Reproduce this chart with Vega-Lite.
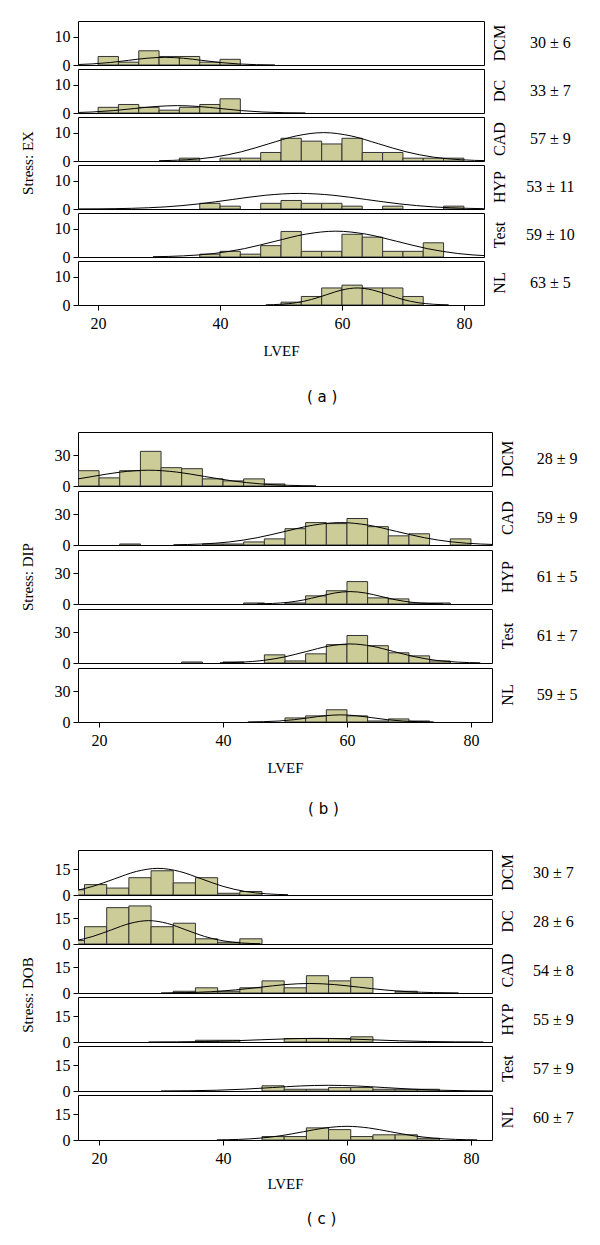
{
"$schema": "https://vega.github.io/schema/vega-lite/v6.json",
"padding": {"left": 20, "top": 20, "right": 5, "bottom": 5},
"background": "white",
"spacing": 32,
"data": {"values": [
{"s":"a","p":"DCM","x":20,"x2":23.33,"y":3},{"s":"a","p":"DCM","x":23.33,"x2":26.67,"y":1},{"s":"a","p":"DCM","x":26.67,"x2":30,"y":5},{"s":"a","p":"DCM","x":30,"x2":33.33,"y":3},{"s":"a","p":"DCM","x":33.33,"x2":36.67,"y":3},{"s":"a","p":"DCM","x":36.67,"x2":40,"y":1},{"s":"a","p":"DCM","x":40,"x2":43.33,"y":2},
{"s":"a","p":"DC","x":20,"x2":23.33,"y":2},{"s":"a","p":"DC","x":23.33,"x2":26.67,"y":3},{"s":"a","p":"DC","x":26.67,"x2":30,"y":2},{"s":"a","p":"DC","x":30,"x2":33.33,"y":1},{"s":"a","p":"DC","x":33.33,"x2":36.67,"y":2},{"s":"a","p":"DC","x":36.67,"x2":40,"y":3},{"s":"a","p":"DC","x":40,"x2":43.33,"y":5},
{"s":"a","p":"CAD","x":33.33,"x2":36.67,"y":1},{"s":"a","p":"CAD","x":40,"x2":43.33,"y":1},{"s":"a","p":"CAD","x":43.33,"x2":46.67,"y":1},{"s":"a","p":"CAD","x":46.67,"x2":50,"y":3},{"s":"a","p":"CAD","x":50,"x2":53.33,"y":8},{"s":"a","p":"CAD","x":53.33,"x2":56.67,"y":7},{"s":"a","p":"CAD","x":56.67,"x2":60,"y":6},{"s":"a","p":"CAD","x":60,"x2":63.33,"y":8},{"s":"a","p":"CAD","x":63.33,"x2":66.67,"y":3},{"s":"a","p":"CAD","x":66.67,"x2":70,"y":3},{"s":"a","p":"CAD","x":70,"x2":73.33,"y":1},{"s":"a","p":"CAD","x":73.33,"x2":76.67,"y":1},{"s":"a","p":"CAD","x":76.67,"x2":80,"y":1},
{"s":"a","p":"HYP","x":36.67,"x2":40,"y":2},{"s":"a","p":"HYP","x":40,"x2":43.33,"y":1},{"s":"a","p":"HYP","x":46.67,"x2":50,"y":2},{"s":"a","p":"HYP","x":50,"x2":53.33,"y":3},{"s":"a","p":"HYP","x":53.33,"x2":56.67,"y":2},{"s":"a","p":"HYP","x":56.67,"x2":60,"y":2},{"s":"a","p":"HYP","x":60,"x2":63.33,"y":1},{"s":"a","p":"HYP","x":66.67,"x2":70,"y":1},{"s":"a","p":"HYP","x":76.67,"x2":80,"y":1},
{"s":"a","p":"Test","x":36.67,"x2":40,"y":1},{"s":"a","p":"Test","x":40,"x2":43.33,"y":2},{"s":"a","p":"Test","x":43.33,"x2":46.67,"y":1},{"s":"a","p":"Test","x":46.67,"x2":50,"y":4},{"s":"a","p":"Test","x":50,"x2":53.33,"y":9},{"s":"a","p":"Test","x":53.33,"x2":56.67,"y":2},{"s":"a","p":"Test","x":56.67,"x2":60,"y":2},{"s":"a","p":"Test","x":60,"x2":63.33,"y":8},{"s":"a","p":"Test","x":63.33,"x2":66.67,"y":7},{"s":"a","p":"Test","x":66.67,"x2":70,"y":2},{"s":"a","p":"Test","x":70,"x2":73.33,"y":2},{"s":"a","p":"Test","x":73.33,"x2":76.67,"y":5},
{"s":"a","p":"NL","x":50,"x2":53.33,"y":1},{"s":"a","p":"NL","x":53.33,"x2":56.67,"y":3},{"s":"a","p":"NL","x":56.67,"x2":60,"y":6},{"s":"a","p":"NL","x":60,"x2":63.33,"y":7},{"s":"a","p":"NL","x":63.33,"x2":66.67,"y":6},{"s":"a","p":"NL","x":66.67,"x2":70,"y":6},{"s":"a","p":"NL","x":70,"x2":73.33,"y":3},
{"s":"b","p":"DCM","x":16.67,"x2":20,"y":15},{"s":"b","p":"DCM","x":20,"x2":23.33,"y":8},{"s":"b","p":"DCM","x":23.33,"x2":26.67,"y":15},{"s":"b","p":"DCM","x":26.67,"x2":30,"y":34},{"s":"b","p":"DCM","x":30,"x2":33.33,"y":18},{"s":"b","p":"DCM","x":33.33,"x2":36.67,"y":17},{"s":"b","p":"DCM","x":36.67,"x2":40,"y":7},{"s":"b","p":"DCM","x":40,"x2":43.33,"y":5},{"s":"b","p":"DCM","x":43.33,"x2":46.67,"y":7},{"s":"b","p":"DCM","x":46.67,"x2":50,"y":2},
{"s":"b","p":"CAD","x":23.33,"x2":26.67,"y":1},{"s":"b","p":"CAD","x":36.67,"x2":40,"y":1},{"s":"b","p":"CAD","x":40,"x2":43.33,"y":1},{"s":"b","p":"CAD","x":43.33,"x2":46.67,"y":3},{"s":"b","p":"CAD","x":46.67,"x2":50,"y":6},{"s":"b","p":"CAD","x":50,"x2":53.33,"y":16},{"s":"b","p":"CAD","x":53.33,"x2":56.67,"y":22},{"s":"b","p":"CAD","x":56.67,"x2":60,"y":21},{"s":"b","p":"CAD","x":60,"x2":63.33,"y":26},{"s":"b","p":"CAD","x":63.33,"x2":66.67,"y":18},{"s":"b","p":"CAD","x":66.67,"x2":70,"y":9},{"s":"b","p":"CAD","x":70,"x2":73.33,"y":11},{"s":"b","p":"CAD","x":76.67,"x2":80,"y":6},
{"s":"b","p":"HYP","x":43.33,"x2":46.67,"y":1},{"s":"b","p":"HYP","x":50,"x2":53.33,"y":1},{"s":"b","p":"HYP","x":53.33,"x2":56.67,"y":8},{"s":"b","p":"HYP","x":56.67,"x2":60,"y":13},{"s":"b","p":"HYP","x":60,"x2":63.33,"y":22},{"s":"b","p":"HYP","x":63.33,"x2":66.67,"y":6},{"s":"b","p":"HYP","x":66.67,"x2":70,"y":5},{"s":"b","p":"HYP","x":70,"x2":73.33,"y":1},{"s":"b","p":"HYP","x":73.33,"x2":76.67,"y":1},
{"s":"b","p":"Test","x":33.33,"x2":36.67,"y":1},{"s":"b","p":"Test","x":40,"x2":43.33,"y":1},{"s":"b","p":"Test","x":46.67,"x2":50,"y":8},{"s":"b","p":"Test","x":50,"x2":53.33,"y":2},{"s":"b","p":"Test","x":53.33,"x2":56.67,"y":9},{"s":"b","p":"Test","x":56.67,"x2":60,"y":18},{"s":"b","p":"Test","x":60,"x2":63.33,"y":27},{"s":"b","p":"Test","x":63.33,"x2":66.67,"y":17},{"s":"b","p":"Test","x":66.67,"x2":70,"y":10},{"s":"b","p":"Test","x":70,"x2":73.33,"y":7},{"s":"b","p":"Test","x":73.33,"x2":76.67,"y":2},
{"s":"b","p":"NL","x":50,"x2":53.33,"y":4},{"s":"b","p":"NL","x":53.33,"x2":56.67,"y":6},{"s":"b","p":"NL","x":56.67,"x2":60,"y":12},{"s":"b","p":"NL","x":60,"x2":63.33,"y":6},{"s":"b","p":"NL","x":63.33,"x2":66.67,"y":1},{"s":"b","p":"NL","x":66.67,"x2":70,"y":3},{"s":"b","p":"NL","x":70,"x2":73.33,"y":1},
{"s":"c","p":"DCM","x":14.07,"x2":17.65,"y":3},{"s":"c","p":"DCM","x":17.65,"x2":21.23,"y":6},{"s":"c","p":"DCM","x":21.23,"x2":24.81,"y":4},{"s":"c","p":"DCM","x":24.81,"x2":28.39,"y":10},{"s":"c","p":"DCM","x":28.39,"x2":31.97,"y":14},{"s":"c","p":"DCM","x":31.97,"x2":35.55,"y":7},{"s":"c","p":"DCM","x":35.55,"x2":39.13,"y":10},{"s":"c","p":"DCM","x":39.13,"x2":42.71,"y":1},{"s":"c","p":"DCM","x":42.71,"x2":46.29,"y":2},
{"s":"c","p":"DC","x":14.07,"x2":17.65,"y":2},{"s":"c","p":"DC","x":17.65,"x2":21.23,"y":10},{"s":"c","p":"DC","x":21.23,"x2":24.81,"y":21},{"s":"c","p":"DC","x":24.81,"x2":28.39,"y":22},{"s":"c","p":"DC","x":28.39,"x2":31.97,"y":10},{"s":"c","p":"DC","x":31.97,"x2":35.55,"y":12},{"s":"c","p":"DC","x":35.55,"x2":39.13,"y":3},{"s":"c","p":"DC","x":39.13,"x2":42.71,"y":1},{"s":"c","p":"DC","x":42.71,"x2":46.29,"y":3},
{"s":"c","p":"CAD","x":31.97,"x2":35.55,"y":1},{"s":"c","p":"CAD","x":35.55,"x2":39.13,"y":3},{"s":"c","p":"CAD","x":39.13,"x2":42.71,"y":1},{"s":"c","p":"CAD","x":42.71,"x2":46.29,"y":3},{"s":"c","p":"CAD","x":46.29,"x2":49.87,"y":7},{"s":"c","p":"CAD","x":49.87,"x2":53.45,"y":3},{"s":"c","p":"CAD","x":53.45,"x2":57.03,"y":10},{"s":"c","p":"CAD","x":57.03,"x2":60.61,"y":7},{"s":"c","p":"CAD","x":60.61,"x2":64.19,"y":9},{"s":"c","p":"CAD","x":67.77,"x2":71.35,"y":1},
{"s":"c","p":"HYP","x":35.55,"x2":39.13,"y":1},{"s":"c","p":"HYP","x":39.13,"x2":42.71,"y":1},{"s":"c","p":"HYP","x":49.87,"x2":53.45,"y":2},{"s":"c","p":"HYP","x":53.45,"x2":57.03,"y":2},{"s":"c","p":"HYP","x":57.03,"x2":60.61,"y":2},{"s":"c","p":"HYP","x":60.61,"x2":64.19,"y":3},
{"s":"c","p":"Test","x":46.29,"x2":49.87,"y":3},{"s":"c","p":"Test","x":49.87,"x2":53.45,"y":1},{"s":"c","p":"Test","x":53.45,"x2":57.03,"y":1},{"s":"c","p":"Test","x":57.03,"x2":60.61,"y":2},{"s":"c","p":"Test","x":60.61,"x2":64.19,"y":2},{"s":"c","p":"Test","x":64.19,"x2":67.77,"y":1},{"s":"c","p":"Test","x":67.77,"x2":71.35,"y":1},{"s":"c","p":"Test","x":71.35,"x2":74.93,"y":1},
{"s":"c","p":"NL","x":46.29,"x2":49.87,"y":2},{"s":"c","p":"NL","x":49.87,"x2":53.45,"y":2},{"s":"c","p":"NL","x":53.45,"x2":57.03,"y":7},{"s":"c","p":"NL","x":57.03,"x2":60.61,"y":6},{"s":"c","p":"NL","x":60.61,"x2":64.19,"y":2},{"s":"c","p":"NL","x":64.19,"x2":67.77,"y":3},{"s":"c","p":"NL","x":67.77,"x2":71.35,"y":3},{"s":"c","p":"NL","x":71.35,"x2":74.93,"y":1},
{"s":"a","p":"DCM","x":13,"y":0.03},{"s":"a","p":"DCM","x":16,"y":0.12},{"s":"a","p":"DCM","x":19,"y":0.37},{"s":"a","p":"DCM","x":22,"y":0.88},{"s":"a","p":"DCM","x":25,"y":1.64},{"s":"a","p":"DCM","x":28,"y":2.38},{"s":"a","p":"DCM","x":31,"y":2.7},{"s":"a","p":"DCM","x":34,"y":2.38},{"s":"a","p":"DCM","x":37,"y":1.64},{"s":"a","p":"DCM","x":40,"y":0.88},{"s":"a","p":"DCM","x":43,"y":0.37},{"s":"a","p":"DCM","x":46,"y":0.12},{"s":"a","p":"DCM","x":49,"y":0.03},
{"s":"a","p":"DC","x":12,"y":0.03},{"s":"a","p":"DC","x":15.5,"y":0.11},{"s":"a","p":"DC","x":19,"y":0.35},{"s":"a","p":"DC","x":22.5,"y":0.84},{"s":"a","p":"DC","x":26,"y":1.58},{"s":"a","p":"DC","x":29.5,"y":2.29},{"s":"a","p":"DC","x":33,"y":2.6},{"s":"a","p":"DC","x":36.5,"y":2.29},{"s":"a","p":"DC","x":40,"y":1.58},{"s":"a","p":"DC","x":43.5,"y":0.84},{"s":"a","p":"DC","x":47,"y":0.35},{"s":"a","p":"DC","x":50.5,"y":0.11},{"s":"a","p":"DC","x":54,"y":0.03},
{"s":"a","p":"CAD","x":30,"y":0.11},{"s":"a","p":"CAD","x":34.5,"y":0.44},{"s":"a","p":"CAD","x":39,"y":1.35},{"s":"a","p":"CAD","x":43.5,"y":3.25},{"s":"a","p":"CAD","x":48,"y":6.07},{"s":"a","p":"CAD","x":52.5,"y":8.83},{"s":"a","p":"CAD","x":57,"y":10},{"s":"a","p":"CAD","x":61.5,"y":8.83},{"s":"a","p":"CAD","x":66,"y":6.07},{"s":"a","p":"CAD","x":70.5,"y":3.25},{"s":"a","p":"CAD","x":75,"y":1.35},{"s":"a","p":"CAD","x":79.5,"y":0.44},{"s":"a","p":"CAD","x":84,"y":0.11},
{"s":"a","p":"HYP","x":14.5,"y":0.01},{"s":"a","p":"HYP","x":20,"y":0.06},{"s":"a","p":"HYP","x":25.5,"y":0.24},{"s":"a","p":"HYP","x":31,"y":0.74},{"s":"a","p":"HYP","x":36.5,"y":1.79},{"s":"a","p":"HYP","x":42,"y":3.34},{"s":"a","p":"HYP","x":47.5,"y":4.85},{"s":"a","p":"HYP","x":53,"y":5.5},{"s":"a","p":"HYP","x":58.5,"y":4.85},{"s":"a","p":"HYP","x":64,"y":3.34},{"s":"a","p":"HYP","x":69.5,"y":1.79},{"s":"a","p":"HYP","x":75,"y":0.74},{"s":"a","p":"HYP","x":80.5,"y":0.24},{"s":"a","p":"HYP","x":86,"y":0.06},
{"s":"a","p":"Test","x":29,"y":0.1},{"s":"a","p":"Test","x":34,"y":0.4},{"s":"a","p":"Test","x":39,"y":1.23},{"s":"a","p":"Test","x":44,"y":2.95},{"s":"a","p":"Test","x":49,"y":5.52},{"s":"a","p":"Test","x":54,"y":8.03},{"s":"a","p":"Test","x":59,"y":9.1},{"s":"a","p":"Test","x":64,"y":8.03},{"s":"a","p":"Test","x":69,"y":5.52},{"s":"a","p":"Test","x":74,"y":2.95},{"s":"a","p":"Test","x":79,"y":1.23},{"s":"a","p":"Test","x":84,"y":0.4},{"s":"a","p":"Test","x":89,"y":0.1},
{"s":"a","p":"NL","x":47.5,"y":0.07},{"s":"a","p":"NL","x":50,"y":0.26},{"s":"a","p":"NL","x":52.5,"y":0.81},{"s":"a","p":"NL","x":55,"y":1.95},{"s":"a","p":"NL","x":57.5,"y":3.64},{"s":"a","p":"NL","x":60,"y":5.3},{"s":"a","p":"NL","x":62.5,"y":6},{"s":"a","p":"NL","x":65,"y":5.3},{"s":"a","p":"NL","x":67.5,"y":3.64},{"s":"a","p":"NL","x":70,"y":1.95},{"s":"a","p":"NL","x":72.5,"y":0.81},{"s":"a","p":"NL","x":75,"y":0.26},{"s":"a","p":"NL","x":77.5,"y":0.07},
{"s":"b","p":"DCM","x":1,"y":0.17},{"s":"b","p":"DCM","x":5.5,"y":0.68},{"s":"b","p":"DCM","x":10,"y":2.1},{"s":"b","p":"DCM","x":14.5,"y":5.03},{"s":"b","p":"DCM","x":19,"y":9.4},{"s":"b","p":"DCM","x":23.5,"y":13.68},{"s":"b","p":"DCM","x":28,"y":15.5},{"s":"b","p":"DCM","x":32.5,"y":13.68},{"s":"b","p":"DCM","x":37,"y":9.4},{"s":"b","p":"DCM","x":41.5,"y":5.03},{"s":"b","p":"DCM","x":46,"y":2.1},{"s":"b","p":"DCM","x":50.5,"y":0.68},{"s":"b","p":"DCM","x":55,"y":0.17},
{"s":"b","p":"CAD","x":32,"y":0.24},{"s":"b","p":"CAD","x":36.5,"y":0.97},{"s":"b","p":"CAD","x":41,"y":2.98},{"s":"b","p":"CAD","x":45.5,"y":7.14},{"s":"b","p":"CAD","x":50,"y":13.34},{"s":"b","p":"CAD","x":54.5,"y":19.42},{"s":"b","p":"CAD","x":59,"y":22},{"s":"b","p":"CAD","x":63.5,"y":19.42},{"s":"b","p":"CAD","x":68,"y":13.34},{"s":"b","p":"CAD","x":72.5,"y":7.14},{"s":"b","p":"CAD","x":77,"y":2.98},{"s":"b","p":"CAD","x":81.5,"y":0.97},{"s":"b","p":"CAD","x":86,"y":0.24},
{"s":"b","p":"HYP","x":45.5,"y":0.14},{"s":"b","p":"HYP","x":48,"y":0.54},{"s":"b","p":"HYP","x":50.5,"y":1.65},{"s":"b","p":"HYP","x":53,"y":3.96},{"s":"b","p":"HYP","x":55.5,"y":7.4},{"s":"b","p":"HYP","x":58,"y":10.77},{"s":"b","p":"HYP","x":60.5,"y":12.2},{"s":"b","p":"HYP","x":63,"y":10.77},{"s":"b","p":"HYP","x":65.5,"y":7.4},{"s":"b","p":"HYP","x":68,"y":3.96},{"s":"b","p":"HYP","x":70.5,"y":1.65},{"s":"b","p":"HYP","x":73,"y":0.54},{"s":"b","p":"HYP","x":75.5,"y":0.14},
{"s":"b","p":"Test","x":39.5,"y":0.21},{"s":"b","p":"Test","x":43,"y":0.82},{"s":"b","p":"Test","x":46.5,"y":2.53},{"s":"b","p":"Test","x":50,"y":6.07},{"s":"b","p":"Test","x":53.5,"y":11.34},{"s":"b","p":"Test","x":57,"y":16.5},{"s":"b","p":"Test","x":60.5,"y":18.7},{"s":"b","p":"Test","x":64,"y":16.5},{"s":"b","p":"Test","x":67.5,"y":11.34},{"s":"b","p":"Test","x":71,"y":6.07},{"s":"b","p":"Test","x":74.5,"y":2.53},{"s":"b","p":"Test","x":78,"y":0.82},{"s":"b","p":"Test","x":81.5,"y":0.21},
{"s":"b","p":"NL","x":44,"y":0.08},{"s":"b","p":"NL","x":46.5,"y":0.31},{"s":"b","p":"NL","x":49,"y":0.95},{"s":"b","p":"NL","x":51.5,"y":2.27},{"s":"b","p":"NL","x":54,"y":4.25},{"s":"b","p":"NL","x":56.5,"y":6.18},{"s":"b","p":"NL","x":59,"y":7},{"s":"b","p":"NL","x":61.5,"y":6.18},{"s":"b","p":"NL","x":64,"y":4.25},{"s":"b","p":"NL","x":66.5,"y":2.27},{"s":"b","p":"NL","x":69,"y":0.95},{"s":"b","p":"NL","x":71.5,"y":0.31},{"s":"b","p":"NL","x":74,"y":0.08},
{"s":"c","p":"DCM","x":8.5,"y":0.17},{"s":"c","p":"DCM","x":12,"y":0.68},{"s":"c","p":"DCM","x":15.5,"y":2.08},{"s":"c","p":"DCM","x":19,"y":5},{"s":"c","p":"DCM","x":22.5,"y":9.34},{"s":"c","p":"DCM","x":26,"y":13.59},{"s":"c","p":"DCM","x":29.5,"y":15.4},{"s":"c","p":"DCM","x":33,"y":13.59},{"s":"c","p":"DCM","x":36.5,"y":9.34},{"s":"c","p":"DCM","x":40,"y":5},{"s":"c","p":"DCM","x":43.5,"y":2.08},{"s":"c","p":"DCM","x":47,"y":0.68},{"s":"c","p":"DCM","x":50.5,"y":0.17},
{"s":"c","p":"DC","x":10,"y":0.15},{"s":"c","p":"DC","x":13,"y":0.59},{"s":"c","p":"DC","x":16,"y":1.83},{"s":"c","p":"DC","x":19,"y":4.38},{"s":"c","p":"DC","x":22,"y":8.19},{"s":"c","p":"DC","x":25,"y":11.91},{"s":"c","p":"DC","x":28,"y":13.5},{"s":"c","p":"DC","x":31,"y":11.91},{"s":"c","p":"DC","x":34,"y":8.19},{"s":"c","p":"DC","x":37,"y":4.38},{"s":"c","p":"DC","x":40,"y":1.83},{"s":"c","p":"DC","x":43,"y":0.59},{"s":"c","p":"DC","x":46,"y":0.15},
{"s":"c","p":"CAD","x":30,"y":0.06},{"s":"c","p":"CAD","x":34,"y":0.24},{"s":"c","p":"CAD","x":38,"y":0.74},{"s":"c","p":"CAD","x":42,"y":1.79},{"s":"c","p":"CAD","x":46,"y":3.34},{"s":"c","p":"CAD","x":50,"y":4.85},{"s":"c","p":"CAD","x":54,"y":5.5},{"s":"c","p":"CAD","x":58,"y":4.85},{"s":"c","p":"CAD","x":62,"y":3.34},{"s":"c","p":"CAD","x":66,"y":1.79},{"s":"c","p":"CAD","x":70,"y":0.74},{"s":"c","p":"CAD","x":74,"y":0.24},{"s":"c","p":"CAD","x":78,"y":0.06},
{"s":"c","p":"HYP","x":28,"y":0.02},{"s":"c","p":"HYP","x":32.5,"y":0.09},{"s":"c","p":"HYP","x":37,"y":0.28},{"s":"c","p":"HYP","x":41.5,"y":0.68},{"s":"c","p":"HYP","x":46,"y":1.27},{"s":"c","p":"HYP","x":50.5,"y":1.85},{"s":"c","p":"HYP","x":55,"y":2.1},{"s":"c","p":"HYP","x":59.5,"y":1.85},{"s":"c","p":"HYP","x":64,"y":1.27},{"s":"c","p":"HYP","x":68.5,"y":0.68},{"s":"c","p":"HYP","x":73,"y":0.28},{"s":"c","p":"HYP","x":77.5,"y":0.09},{"s":"c","p":"HYP","x":82,"y":0.02},
{"s":"c","p":"Test","x":30,"y":0.04},{"s":"c","p":"Test","x":34.5,"y":0.14},{"s":"c","p":"Test","x":39,"y":0.45},{"s":"c","p":"Test","x":43.5,"y":1.07},{"s":"c","p":"Test","x":48,"y":2},{"s":"c","p":"Test","x":52.5,"y":2.91},{"s":"c","p":"Test","x":57,"y":3.3},{"s":"c","p":"Test","x":61.5,"y":2.91},{"s":"c","p":"Test","x":66,"y":2},{"s":"c","p":"Test","x":70.5,"y":1.07},{"s":"c","p":"Test","x":75,"y":0.45},{"s":"c","p":"Test","x":79.5,"y":0.14},{"s":"c","p":"Test","x":84,"y":0.04},
{"s":"c","p":"NL","x":39,"y":0.09},{"s":"c","p":"NL","x":42.5,"y":0.35},{"s":"c","p":"NL","x":46,"y":1.07},{"s":"c","p":"NL","x":49.5,"y":2.57},{"s":"c","p":"NL","x":53,"y":4.79},{"s":"c","p":"NL","x":56.5,"y":6.97},{"s":"c","p":"NL","x":60,"y":7.9},{"s":"c","p":"NL","x":63.5,"y":6.97},{"s":"c","p":"NL","x":67,"y":4.79},{"s":"c","p":"NL","x":70.5,"y":2.57},{"s":"c","p":"NL","x":74,"y":1.07},{"s":"c","p":"NL","x":77.5,"y":0.35},{"s":"c","p":"NL","x":81,"y":0.09},
{"s":"a","p":"DCM","t":"30 ± 6"},{"s":"a","p":"DC","t":"33 ± 7"},{"s":"a","p":"CAD","t":"57 ± 9"},{"s":"a","p":"HYP","t":"53 ± 11"},{"s":"a","p":"Test","t":"59 ± 10"},{"s":"a","p":"NL","t":"63 ± 5"},
{"s":"b","p":"DCM","t":"28 ± 9"},{"s":"b","p":"CAD","t":"59 ± 9"},{"s":"b","p":"HYP","t":"61 ± 5"},{"s":"b","p":"Test","t":"61 ± 7"},{"s":"b","p":"NL","t":"59 ± 5"},
{"s":"c","p":"DCM","t":"30 ± 7"},{"s":"c","p":"DC","t":"28 ± 6"},{"s":"c","p":"CAD","t":"54 ± 8"},{"s":"c","p":"HYP","t":"55 ± 9"},{"s":"c","p":"Test","t":"57 ± 9"},{"s":"c","p":"NL","t":"60 ± 7"}
]},
"vconcat": [
{
"spacing": 26,
"vconcat": [
{
"transform": [{"filter": "datum.s === 'a'"}],
"title": {"text": "( a )", "orient": "bottom", "anchor": "middle", "offset": 32, "dx": 24},
"bounds": "flush",
"spacing": 4,
"facet": {"row": {"field": "p", "type": "nominal", "sort": ["DCM","DC","CAD","HYP","Test","NL"], "title": "Stress: EX"}},
"spec": {
"width": 406, "height": 44,
"layer": [
{"transform": [{"filter": "datum.x2 != null"}],
 "mark": {"type": "bar", "fill": "#cccc99", "stroke": "#333333", "strokeWidth": 1, "clip": true},
 "encoding": {
  "x": {"field": "x", "type": "quantitative", "title": "LVEF", "scale": {"domain": [16.7, 83.3], "nice": false, "zero": false}, "axis": {"values": [20,40,60,80]}},
  "x2": {"field": "x2"},
  "y": {"field": "y", "type": "quantitative", "title": null, "scale": {"domain": [0, 15.5], "nice": false}, "axis": {"values": [0,10]}},
  "y2": {"datum": 0}
 }},
{"transform": [{"filter": "datum.x2 == null && datum.t == null"}],
 "mark": {"type": "line", "color": "black", "strokeWidth": 1, "interpolate": "monotone", "clip": true},
 "encoding": {
  "x": {"field": "x", "type": "quantitative", "title": "LVEF", "axis": {"values": [20,40,60,80]}},
  "y": {"field": "y", "type": "quantitative", "title": null, "axis": {"values": [0,10]}}
 }},
{"transform": [{"filter": "datum.t != null"}],
 "mark": {"type": "text", "font": "Liberation Serif", "fontSize": 16, "align": "center", "baseline": "middle", "color": "black"},
 "encoding": {
  "x": {"datum": 94.2, "type": "quantitative", "title": "LVEF", "axis": {"values": [20,40,60,80]}},
  "y": {"datum": 7.75, "type": "quantitative", "title": null, "axis": {"values": [0,10]}},
  "text": {"field": "t"}
 }}
]
}
},
{
"transform": [{"filter": "datum.s === 'b'"}],
"title": {"text": "( b )", "orient": "bottom", "anchor": "middle", "offset": 27, "dx": 24},
"bounds": "flush",
"spacing": 5,
"facet": {"row": {"field": "p", "type": "nominal", "sort": ["DCM","CAD","HYP","Test","NL"], "title": "Stress: DIP"}},
"spec": {
"width": 414, "height": 54,
"layer": [
{"transform": [{"filter": "datum.x2 != null"}],
 "mark": {"type": "bar", "fill": "#cccc99", "stroke": "#333333", "strokeWidth": 1, "clip": true},
 "encoding": {
  "x": {"field": "x", "type": "quantitative", "title": "LVEF", "scale": {"domain": [16.6, 83.4], "nice": false, "zero": false}, "axis": {"values": [20,40,60,80]}},
  "x2": {"field": "x2"},
  "y": {"field": "y", "type": "quantitative", "title": null, "scale": {"domain": [0, 53], "nice": false}, "axis": {"values": [0,30]}},
  "y2": {"datum": 0}
 }},
{"transform": [{"filter": "datum.x2 == null && datum.t == null"}],
 "mark": {"type": "line", "color": "black", "strokeWidth": 1, "interpolate": "monotone", "clip": true},
 "encoding": {
  "x": {"field": "x", "type": "quantitative", "title": "LVEF", "axis": {"values": [20,40,60,80]}},
  "y": {"field": "y", "type": "quantitative", "title": null, "axis": {"values": [0,30]}}
 }},
{"transform": [{"filter": "datum.t != null"}],
 "mark": {"type": "text", "font": "Liberation Serif", "fontSize": 16, "align": "center", "baseline": "middle", "color": "black"},
 "encoding": {
  "x": {"datum": 93.9, "type": "quantitative", "title": "LVEF", "axis": {"values": [20,40,60,80]}},
  "y": {"datum": 26.5, "type": "quantitative", "title": null, "axis": {"values": [0,30]}},
  "text": {"field": "t"}
 }}
]
}
}
]
},
{
"transform": [{"filter": "datum.s === 'c'"}],
"title": {"text": "( c )", "orient": "bottom", "anchor": "middle", "offset": 21, "dx": 24},
"bounds": "flush",
"spacing": 4,
"facet": {"row": {"field": "p", "type": "nominal", "sort": ["DCM","DC","CAD","HYP","Test","NL"], "title": "Stress: DOB"}},
"spec": {
"width": 414, "height": 45,
"layer": [
{"transform": [{"filter": "datum.x2 != null"}],
 "mark": {"type": "bar", "fill": "#cccc99", "stroke": "#333333", "strokeWidth": 1, "clip": true},
 "encoding": {
  "x": {"field": "x", "type": "quantitative", "title": "LVEF", "scale": {"domain": [16.6, 83.4], "nice": false, "zero": false}, "axis": {"values": [20,40,60,80], "titlePadding": 10}},
  "x2": {"field": "x2"},
  "y": {"field": "y", "type": "quantitative", "title": null, "scale": {"domain": [0, 26], "nice": false}, "axis": {"values": [0,15]}},
  "y2": {"datum": 0}
 }},
{"transform": [{"filter": "datum.x2 == null && datum.t == null"}],
 "mark": {"type": "line", "color": "black", "strokeWidth": 1, "interpolate": "monotone", "clip": true},
 "encoding": {
  "x": {"field": "x", "type": "quantitative", "title": "LVEF", "axis": {"values": [20,40,60,80], "titlePadding": 10}},
  "y": {"field": "y", "type": "quantitative", "title": null, "axis": {"values": [0,15]}}
 }},
{"transform": [{"filter": "datum.t != null"}],
 "mark": {"type": "text", "font": "Liberation Serif", "fontSize": 16, "align": "center", "baseline": "middle", "color": "black"},
 "encoding": {
  "x": {"datum": 93.3, "type": "quantitative", "title": "LVEF", "axis": {"values": [20,40,60,80], "titlePadding": 10}},
  "y": {"datum": 13, "type": "quantitative", "title": null, "axis": {"values": [0,15]}},
  "text": {"field": "t"}
 }}
]
}
}
],
"config": {
"view": {"stroke": "black", "strokeWidth": 1},
"axis": {"grid": false, "domain": false, "tickColor": "black", "tickSize": 5, "labelFont": "Liberation Serif", "labelFontSize": 16, "labelColor": "black", "labelPadding": 3, "titleFont": "Liberation Serif", "titleFontSize": 15, "titleFontWeight": "normal", "titleColor": "black"},
"axisX": {"labelPadding": 5, "titlePadding": 12},
"header": {"labelOrient": "right", "labelAngle": -90, "labelFont": "Liberation Serif", "labelFontSize": 16, "labelColor": "black", "labelPadding": 0, "titleOrient": "left", "titleFont": "Liberation Serif", "titleFontSize": 15, "titleFontWeight": "normal", "titleColor": "black", "titlePadding": 8},
"title": {"font": "DejaVu Sans", "fontSize": 15, "fontWeight": "normal", "color": "black"}
}
}
